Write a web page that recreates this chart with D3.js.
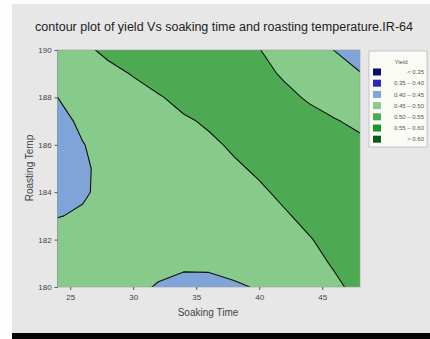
<!DOCTYPE html>
<html>
<head>
<meta charset="utf-8">
<script src="https://cdn.jsdelivr.net/npm/d3@7"></script>
<style>
  html, body { margin: 0; padding: 0; background: #ffffff; }
  svg { display: block; }
  text { font-family: "Liberation Sans", "DejaVu Sans", sans-serif; }
</style>
</head>
<body>
<svg id="chart" width="430" height="339"></svg>
<script>
// Soaking time (x) and roasting temperature (y) sample positions of the yield grid
const soakTimes = [24, 26, 28, 30, 32, 34, 36, 38, 40, 42, 44, 46, 48];
const roastTemps = [190, 189, 188, 187, 186, 185, 184, 183, 182, 181, 180];

// Fitted yield, one row per roasting temperature (top row = 190)
const yield190 = [0.476, 0.492, 0.508, 0.516, 0.520, 0.521, 0.518, 0.513, 0.501, 0.485, 0.468, 0.449, 0.428];
const yield189 = [0.462, 0.476, 0.490, 0.502, 0.511, 0.516, 0.517, 0.514, 0.507, 0.497, 0.484, 0.469, 0.452];
const yield188 = [0.450, 0.464, 0.476, 0.487, 0.498, 0.507, 0.512, 0.514, 0.512, 0.506, 0.497, 0.485, 0.471];
const yield187 = [0.440, 0.456, 0.468, 0.479, 0.488, 0.497, 0.503, 0.509, 0.512, 0.512, 0.508, 0.502, 0.493];
const yield186 = [0.433, 0.449, 0.460, 0.471, 0.480, 0.488, 0.496, 0.503, 0.508, 0.512, 0.514, 0.512, 0.507];
const yield185 = [0.430, 0.446, 0.458, 0.467, 0.476, 0.483, 0.490, 0.497, 0.503, 0.509, 0.513, 0.514, 0.512];
const yield184 = [0.433, 0.447, 0.457, 0.465, 0.472, 0.478, 0.484, 0.490, 0.497, 0.504, 0.510, 0.514, 0.515];
const yield183 = [0.449, 0.453, 0.461, 0.466, 0.470, 0.474, 0.479, 0.485, 0.491, 0.498, 0.505, 0.511, 0.514];
const yield182 = [0.462, 0.462, 0.463, 0.464, 0.465, 0.467, 0.471, 0.477, 0.484, 0.491, 0.499, 0.506, 0.511];
const yield181 = [0.470, 0.467, 0.463, 0.459, 0.457, 0.454, 0.455, 0.463, 0.472, 0.481, 0.491, 0.503, 0.510];
const yield180 = [0.478, 0.472, 0.463, 0.456, 0.448, 0.443, 0.442, 0.445, 0.453, 0.466, 0.480, 0.495, 0.508];

// Contour levels, legend labels and band colours
const levels = [0.35, 0.40, 0.45, 0.50, 0.55, 0.60];
const legendLabels = ["< 0.35", "0.35 \u2013 0.40", "0.40 \u2013 0.45", "0.45 \u2013 0.50", "0.50 \u2013 0.55", "0.55 \u2013 0.60", "> 0.60"];
const bandColors = ["#0c0c6e", "#2a2ab6", "#7ea4d8", "#86cb8a", "#4eaa52", "#149a2c", "#0b5c18"];

const xTicks = [25, 30, 35, 40, 45];
const yTicks = [180, 182, 184, 186, 188, 190];

const yieldRows = [yield190, yield189, yield188, yield187, yield186, yield185,
                   yield184, yield183, yield182, yield181, yield180];
const grid = yieldRows.flat();
const nx = soakTimes.length, ny = roastTemps.length;

const svg = d3.select("#chart");

// page background: white margin, grey panel, black strip at the bottom
svg.append("rect").attr("x", 0).attr("y", 0).attr("width", 430).attr("height", 339).attr("fill", "#fdfdfd");
svg.append("rect").attr("x", 12).attr("y", 4).attr("width", 418).attr("height", 329).attr("fill", "#e7e7e7");
svg.append("rect").attr("x", 12).attr("y", 333).attr("width", 418).attr("height", 6).attr("fill", "#050505");

const x = d3.scaleLinear().domain([24, 48]).range([57.6, 360]);
const y = d3.scaleLinear().domain([180, 190]).range([287, 50]);

// grid index -> data coordinates (d3.contours puts sample i at i + 0.5)
const gi = d3.scaleLinear().domain([0, nx - 1]).range([soakTimes[0], soakTimes[nx - 1]]);
const gj = d3.scaleLinear().domain([0, ny - 1]).range([roastTemps[0], roastTemps[ny - 1]]);
const projection = d3.geoTransform({
  point: function(px, py) {
    this.stream.point(x(gi(px - 0.5)), y(gj(py - 0.5)));
  }
});
const path = d3.geoPath(projection);

svg.append("clipPath").attr("id", "plotClip")
  .append("rect")
  .attr("x", x(24)).attr("y", y(190))
  .attr("width", x(48) - x(24)).attr("height", y(180) - y(190));

const plot = svg.append("g").attr("clip-path", "url(#plotClip)");

const contours = d3.contours().size([nx, ny]).thresholds(levels)(grid);

// lowest band underneath, then each region >= level stacked on top
plot.append("rect")
  .attr("x", x(24)).attr("y", y(190))
  .attr("width", x(48) - x(24)).attr("height", y(180) - y(190))
  .attr("fill", bandColors[0]);

plot.selectAll("path.band")
  .data(contours)
  .join("path")
  .attr("class", "band")
  .attr("d", path)
  .attr("fill", (d, i) => bandColors[i + 1])
  .attr("stroke", "none");

plot.selectAll("path.iso")
  .data(contours)
  .join("path")
  .attr("class", "iso")
  .attr("d", path)
  .attr("fill", "none")
  .attr("stroke", "#101010")
  .attr("stroke-width", 1.1)
  .attr("stroke-linejoin", "round");

// plot frame
svg.append("rect")
  .attr("x", x(24)).attr("y", y(190))
  .attr("width", x(48) - x(24)).attr("height", y(180) - y(190))
  .attr("fill", "none").attr("stroke", "#9a9a9a").attr("stroke-width", 0.6);

// axes
const xAxis = svg.append("g").attr("transform", `translate(0,${y(180)})`)
  .call(d3.axisBottom(x).tickValues(xTicks).tickSize(3).tickSizeOuter(0).tickFormat(d3.format("d")));
const yAxis = svg.append("g").attr("transform", `translate(${x(24)},0)`)
  .call(d3.axisLeft(y).tickValues(yTicks).tickSize(3).tickSizeOuter(0).tickFormat(d3.format("d")));
[xAxis, yAxis].forEach(g => {
  g.select(".domain").remove();
  g.selectAll(".tick line").attr("stroke", "#555");
  g.selectAll(".tick text").attr("fill", "#444").style("font-size", "8px")
    .style("font-family", "'Liberation Sans', sans-serif");
});
xAxis.selectAll(".tick text").attr("dy", "0.9em");

// titles
svg.append("text")
  .attr("x", 35).attr("y", 31)
  .attr("textLength", 378).attr("lengthAdjust", "spacingAndGlyphs")
  .attr("fill", "#222").style("font-size", "12.5px")
  .text("contour plot of yield Vs soaking time and roasting temperature.IR-64");

svg.append("text")
  .attr("x", 208).attr("y", 316).attr("text-anchor", "middle")
  .attr("fill", "#444").style("font-size", "10px")
  .text("Soaking Time");

svg.append("text")
  .attr("transform", "translate(33,168) rotate(-90)").attr("text-anchor", "middle")
  .attr("fill", "#444").style("font-size", "10px")
  .text("Roasting Temp");

// legend
const legend = svg.append("g");
legend.append("rect")
  .attr("x", 369).attr("y", 51).attr("width", 58).attr("height", 96)
  .attr("fill", "#fbfbf6").attr("stroke", "#b8b8b8").attr("stroke-width", 0.8);
legend.append("text")
  .attr("x", 401).attr("y", 64).attr("text-anchor", "middle")
  .attr("fill", "#555").style("font-size", "6px").text("Yield");

const rows = legend.selectAll("g.item")
  .data(legendLabels)
  .join("g")
  .attr("class", "item")
  .attr("transform", (d, i) => `translate(0,${72 + i * 11.2})`);
rows.append("rect")
  .attr("x", 373).attr("y", -3.5).attr("width", 8).attr("height", 7)
  .attr("fill", (d, i) => bandColors[i]);
rows.append("text")
  .attr("x", 424).attr("y", 2.2).attr("text-anchor", "end")
  .attr("fill", "#555").style("font-size", "6px")
  .text(d => d);
</script>
</body>
</html>
